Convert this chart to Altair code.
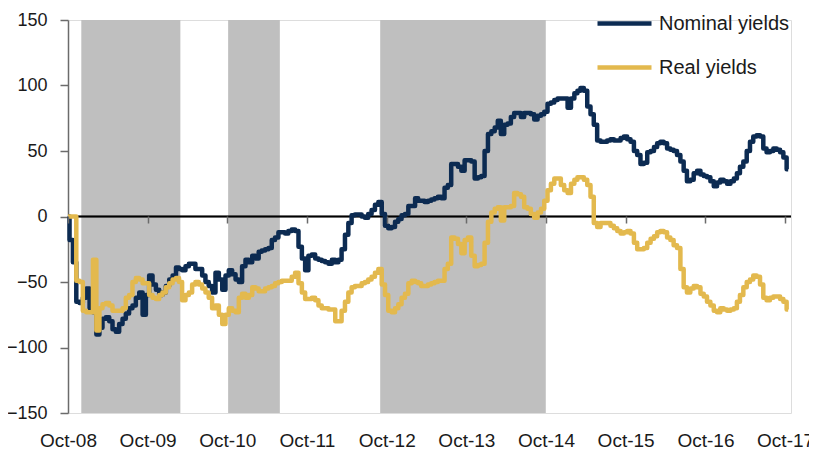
import altair as alt
import pandas as pd

# semi-monthly observation dates (1st and 15th of each month)
dates = pd.date_range("2008-10-01", "2017-10-15", freq="SMS")

nominal = [
    0, -18, -35, -65, -66, -62, -55, -70, -73, -90, -85, -78, -77, -80, -86, -88, -82, -78, -74, -70, -68, -62, -58, -75,
    -60, -45, -52, -56, -60, -58, -53, -48, -45, -39, -40, -41, -38, -36, -36, -40, -40, -45, -50, -53, -58, -43, -48, -56,
    -45, -41, -44, -48, -50, -38, -33, -35, -30, -32, -27, -26, -25, -24, -18, -16, -12, -12, -13, -11, -10, -11, -23, -32,
    -41, -30, -29, -32, -33, -34, -35, -36, -33, -35, -33, -25, -14, -5, 1, 1.5, 1.5, 0, -1, 2, 5, 9, 11, 2,
    -7, -9, -8, -4, -2, 1, 2, 8, 8, 14, 12, 12, 11, 12, 13, 14, 15, 14, 22, 24, 40, 40, 38, 35,
    43, 43, 42, 29, 30, 31, 50, 63, 65, 68, 73, 63, 70, 71, 76, 79, 79, 76, 79, 79, 78, 74, 77, 78,
    80, 86, 87, 89, 90, 90, 90, 83, 90, 94, 96, 98, 96, 84, 78, 70, 58, 57, 57, 58, 59, 58, 58, 60,
    61, 59, 57, 50, 47, 40, 41, 49, 50, 53, 56, 57, 56, 52, 51, 50, 47, 42, 35, 27, 28, 33, 35, 32,
    31, 30, 27, 23, 26, 28, 27, 25, 27, 29, 33, 38, 42, 50, 57, 61, 62, 61, 52, 49, 50, 52, 51, 49, 45, 36,
]

real = [
    0, 0, 0, -49, -50, -72, -73, -73, -33, -87, -70, -67, -66, -68, -72, -72, -72, -70, -62, -60, -50, -47, -48, -51,
    -51, -60, -62, -63, -60, -58, -54, -51, -48, -47, -50, -64, -60, -58, -52, -50, -52, -55, -58, -62, -70, -68, -75, -82,
    -75, -70, -72, -73, -62, -59, -62, -60, -54, -55, -57, -57, -55, -54, -53, -51, -50, -49, -49, -49, -46, -43, -51, -58,
    -63, -63, -62, -64, -68, -70, -70, -71, -71, -80, -80, -72, -65, -58, -54, -53, -53, -51, -50, -48, -46, -43, -40, -52,
    -60, -72, -73, -70, -67, -62, -59, -51, -49, -50, -51, -53, -53, -52, -51, -50, -49, -49, -40, -36, -16, -17, -21, -28,
    -18, -16, -30, -38, -37, -36, -20, -4, 3, 6, 7, -3, 7, 7, 8, 18, 17, 15, 7, 6, 2, -1, 3, 6,
    12, 20, 25, 29, 29, 24, 20, 18, 25, 28, 30, 30, 28, 24, 15, -5, -8, -5, -5, -5, -7, -9, -11, -13,
    -12, -11, -13, -20, -25, -25, -24, -20, -17, -15, -12, -11, -12, -16, -18, -22, -24, -40, -54, -58, -55, -53, -54, -59,
    -61, -65, -68, -72, -73, -70, -71, -72, -71, -70, -65, -60, -54, -50, -48, -45, -46, -52, -62, -64, -62, -61, -61, -63, -65, -71,
]

series_names = ["Nominal yields", "Real yields"]
series_colors = ["#0C2B52", "#E3B94E"]

shade_start = ["2008-12-01", "2010-10-05", "2012-09-01"]
shade_end = ["2010-02-28", "2011-05-30", "2014-09-30"]

tick_years = list(range(2008, 2018))
y_ticks = [-150, -100, -50, 0, 50, 100, 150]

FONT = "Liberation Sans, Arial, sans-serif"
W, H = 723, 393

n = min(len(dates), len(nominal), len(real))
df = pd.concat([
    pd.DataFrame({"date": dates[:n], "value": nominal[:n], "series": series_names[0]}),
    pd.DataFrame({"date": dates[:n], "value": real[:n], "series": series_names[1]}),
])
shade_df = pd.DataFrame({"start": pd.to_datetime(shade_start), "end": pd.to_datetime(shade_end)})

x_scale = alt.Scale(domain=[alt.DateTime(year=2008, month=10, date=1),
                            alt.DateTime(year=2017, month=10, date=28)])
y_scale = alt.Scale(domain=[-150, 150], nice=False)

x_axis = alt.Axis(
    values=[alt.DateTime(year=y, month=10, date=1) for y in tick_years],
    format="%b-%y", orient="bottom", offset=-197, domain=False,
    ticks=True, tickSize=7, tickColor="#6b6b6b", tickWidth=1.5,
    labelPadding=208, labelFont=FONT, labelFontSize=19, labelColor="#1a1a1a",
    labelFlush=False, labelBound=False, labelOverlap=False,
    grid=False, title=None, zindex=1,
)
y_axis = alt.Axis(
    values=y_ticks, domain=True, domainColor="#6b6b6b", domainWidth=1.5,
    ticks=True, tickSize=8, tickColor="#6b6b6b", tickWidth=1.5,
    labelPadding=13, labelFont=FONT, labelFontSize=18, labelColor="#1a1a1a",
    labelFlush=False, grid=False, title=None,
)

shade = alt.Chart(shade_df).mark_rect(color="#BFBFBF").encode(
    x=alt.X("start:T", scale=x_scale, axis=x_axis),
    x2="end:T",
    y=alt.Y(datum=150, scale=y_scale, axis=y_axis),
    y2=alt.Y2(datum=-150),
)

zero = alt.Chart(shade_df).mark_rule(color="#000000", strokeWidth=1.5).encode(
    y=alt.Y(datum=0, scale=y_scale)
)

lines = alt.Chart(df).mark_line(strokeWidth=4.5, interpolate="step", strokeJoin="round").encode(
    x=alt.X("date:T", scale=x_scale),
    y=alt.Y("value:Q", scale=y_scale),
    color=alt.Color(
        "series:N",
        scale=alt.Scale(domain=series_names, range=series_colors),
        legend=alt.Legend(
            orient="none", legendX=527, legendY=-26, title=None,
            symbolType="stroke", symbolSize=2916, symbolStrokeWidth=4.5,
            labelFont=FONT, labelFontSize=20, labelColor="#1a1a1a",
            labelOffset=5, rowPadding=4,
        ),
    ),
)

chart = alt.layer(shade, zero, lines).properties(
    width=W, height=H,
    padding={"left": 60, "top": 12, "right": 18, "bottom": 38},
    autosize=alt.AutoSizeParams(type="none"),
).configure_view(stroke=None).configure(background="white")

chart.save("out.html", embed_options={"renderer": "svg", "actions": False})
